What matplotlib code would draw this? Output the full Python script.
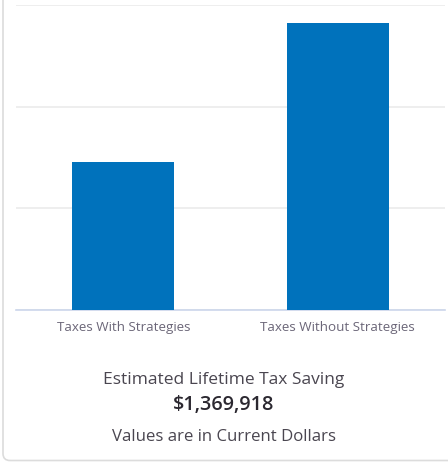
import matplotlib
matplotlib.use("Agg")
import matplotlib.pyplot as plt
from matplotlib.patches import FancyBboxPatch

categories = ["Taxes With Strategies", "Taxes Without Strategies"]
taxes_with = 1455000
tax_saving = 1369918
taxes_without = taxes_with + tax_saving
values = [taxes_with, taxes_without]
y_ticks = [0, 1000000, 2000000, 3000000]

plt.rcParams["font.family"] = ["Open Sans", "DejaVu Sans"]

fig = plt.figure(figsize=(4.48, 4.62), dpi=100)
fig.patch.set_facecolor("white")

# card outline in pixel units, open at the top and right
card = FancyBboxPatch((3, 1.5), 700, 700,
                      boxstyle="round,pad=0,rounding_size=7",
                      transform=None, facecolor="none",
                      edgecolor="#dcdcdc", linewidth=1.2, zorder=0)
fig.patches.append(card)

ax = fig.add_axes([16 / 448, (462 - 310) / 462, 429 / 448, 305 / 462])
ax.bar(range(len(values)), values, width=0.475, color="#0072bc", zorder=3)
ax.set_xlim(-0.5, 1.5)
ax.set_ylim(0, y_ticks[-1])
ax.set_yticks(y_ticks)
ax.yaxis.grid(True, color="#ebebeb", linewidth=1.2, zorder=0)
ax.tick_params(axis="y", left=False, labelleft=False)
ax.set_xticks(range(len(categories)))
ax.set_xticklabels(categories, fontsize=9.6, color="#6b6678")
ax.tick_params(axis="x", length=0, pad=8)
for side in ["top", "right", "left"]:
    ax.spines[side].set_visible(False)
ax.spines["bottom"].set_color("#ccd6eb")
ax.spines["bottom"].set_linewidth(1.2)

fig.text(0.5, 1 - 380 / 462, "Estimated Lifetime Tax Saving", ha="center",
         va="center", fontsize=12.5, color="#4a4650")
fig.text(0.5, 1 - 405 / 462, "${:,}".format(tax_saving), ha="center",
         va="center", fontsize=14.3, fontweight="semibold", color="#2b2830")
fig.text(0.5, 1 - 437 / 462, "Values are in Current Dollars", ha="center",
         va="center", fontsize=12.1, color="#4a4650")

fig.savefig("out.png", dpi=100, facecolor="white")
